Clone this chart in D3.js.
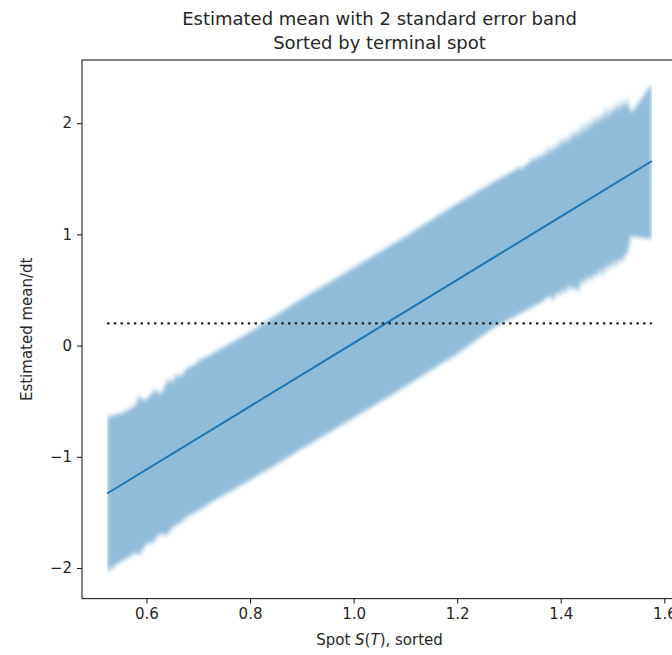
<!DOCTYPE html>
<html>
<head>
<meta charset="utf-8">
<script src="https://cdn.jsdelivr.net/npm/d3@7"></script>
<style>
  body { margin: 0; background: #fff; }
  text { font-family: "DejaVu Sans", sans-serif; fill: #262626; }
</style>
</head>
<body>
<div id="chart"></div>
<script>
// band edges (mean ± 2 s.e.)
const upperX = [0.524, 0.539, 0.557, 0.574, 0.580, 0.586, 0.593, 0.601, 0.611, 0.616, 0.624, 0.632,
  0.642, 0.649, 0.659, 0.667, 0.678, 0.690, 0.703, 0.723, 0.742, 0.767, 0.800, 0.833, 0.896,
  0.993, 1.089, 1.186, 1.244, 1.300, 1.310, 1.318, 1.324, 1.330, 1.338, 1.345, 1.350, 1.356,
  1.362, 1.368, 1.373, 1.378, 1.384, 1.389, 1.394, 1.400, 1.405, 1.410, 1.416, 1.421, 1.427,
  1.432, 1.438, 1.443, 1.448, 1.454, 1.459, 1.465, 1.470, 1.476, 1.481, 1.487, 1.492, 1.498,
  1.503, 1.509, 1.514, 1.519, 1.524, 1.528, 1.532, 1.536, 1.576];
const upperY = [-0.639, -0.624, -0.597, -0.552, -0.525, -0.444, -0.498, -0.480, -0.426, -0.390, -0.435, -0.408,
  -0.291, -0.337, -0.255, -0.284, -0.201, -0.183, -0.129, -0.085, -0.031, 0.032, 0.122, 0.221, 0.410,
  0.680, 0.950, 1.237, 1.399, 1.55, 1.57, 1.61, 1.58, 1.62, 1.64, 1.69, 1.66, 1.72,
  1.68, 1.75, 1.71, 1.80, 1.73, 1.82, 1.76, 1.87, 1.80, 1.89, 1.81, 1.94, 1.85,
  1.96, 1.88, 2.02, 1.91, 2.03, 1.95, 2.08, 1.98, 2.09, 2.02, 2.15, 2.04, 2.16,
  2.08, 2.20, 2.10, 2.21, 2.14, 2.23, 2.15, 2.09, 2.352];
const lowerX = [0.524, 0.549, 0.568, 0.578, 0.584, 0.593, 0.603, 0.611, 0.620, 0.630, 0.638, 0.649,
  0.665, 0.680, 0.703, 0.732, 0.767, 0.833, 0.896, 0.993, 1.089, 1.205, 1.269, 1.335, 1.369,
  1.378, 1.385, 1.392, 1.398, 1.404, 1.410, 1.416, 1.422, 1.428, 1.434, 1.440, 1.446, 1.452,
  1.458, 1.464, 1.470, 1.476, 1.482, 1.488, 1.494, 1.500, 1.506, 1.512, 1.518, 1.524, 1.530,
  1.535, 1.576];
const lowerY = [-2.033, -1.943, -1.901, -1.856, -1.892, -1.829, -1.766, -1.784, -1.721, -1.685, -1.712, -1.640,
  -1.595, -1.532, -1.478, -1.388, -1.299, -1.119, -0.939, -0.669, -0.399, -0.060, 0.158, 0.320, 0.410,
  0.45, 0.40, 0.49, 0.44, 0.52, 0.46, 0.55, 0.50, 0.53, 0.47, 0.60, 0.55, 0.64,
  0.57, 0.66, 0.61, 0.70, 0.62, 0.74, 0.68, 0.77, 0.70, 0.79, 0.74, 0.81, 0.84,
  0.986, 0.959];

// estimated mean line
const meanX = [0.524, 0.8, 1.0, 1.2, 1.4, 1.576];
const meanY = [-1.33, -0.546, 0.023, 0.591, 1.16, 1.66];

const refLevel = 0.2;

const xTicks = [0.6, 0.8, 1.0, 1.2, 1.4, 1.6];
const yTicks = [-2, -1, 0, 1, 2];
const titleLines = ["Estimated mean with 2 standard error band", "Sorted by terminal spot"];

const width = 672, height = 655;
const box = { left: 82, top: 60, right: 677, bottom: 598.6 };

const svg = d3.select("#chart").append("svg")
  .attr("width", width).attr("height", height)
  .attr("viewBox", [0, 0, width, height]);

const x = d3.scaleLinear().domain([0.4755, 1.6245]).range([box.left, box.right]);
const y = d3.scaleLinear().domain([-2.275, 2.568]).range([box.bottom, box.top]);

// blur gives the fuzzy edge of the dense noisy band
const defs = svg.append("defs");
defs.append("filter").attr("id", "fuzz")
  .attr("x", "-5%").attr("y", "-5%").attr("width", "110%").attr("height", "110%")
  .append("feGaussianBlur").attr("stdDeviation", 2);
defs.append("clipPath").attr("id", "bandClip")
  .append("rect")
  .attr("x", x(upperX[0])).attr("y", box.top)
  .attr("width", x(upperX[upperX.length - 1]) - x(upperX[0]))
  .attr("height", box.bottom - box.top);

const bandPts = upperX.map((v, i) => [v, upperY[i]])
  .concat(lowerX.map((v, i) => [v, lowerY[i]]).reverse());

const line = d3.line().x(d => x(d[0])).y(d => y(d[1]));

svg.append("g").attr("clip-path", "url(#bandClip)")
  .append("path")
  .attr("d", line(bandPts) + "Z")
  .attr("fill", "#1f77b4")
  .attr("fill-opacity", 0.5)
  .attr("filter", "url(#fuzz)");

// mean line
svg.append("path")
  .attr("d", line(meanX.map((v, i) => [v, meanY[i]])))
  .attr("fill", "none")
  .attr("stroke", "#1f77b4")
  .attr("stroke-width", 2);

// dotted reference level
svg.append("path")
  .attr("d", line([[upperX[0], refLevel], [upperX[upperX.length - 1], refLevel]]))
  .attr("stroke", "#222")
  .attr("stroke-width", 2.4)
  .attr("stroke-dasharray", "2.4 4.3");

// axes
const xAxis = svg.append("g")
  .attr("transform", `translate(0,${box.bottom})`)
  .call(d3.axisBottom(x).tickValues(xTicks).tickFormat(d3.format(".1f")).tickSize(5).tickPadding(5));
const yAxis = svg.append("g")
  .attr("transform", `translate(${box.left},0)`)
  .call(d3.axisLeft(y).tickValues(yTicks).tickFormat(d3.format("d")).tickSize(5).tickPadding(5));
[xAxis, yAxis].forEach(a => {
  a.select(".domain").remove();
  a.selectAll(".tick line").attr("stroke", "#222").attr("stroke-width", 1.1);
  a.selectAll(".tick text").attr("font-size", 15).attr("font-family", "DejaVu Sans").attr("fill", "#262626");
});

// spines
svg.append("rect")
  .attr("x", box.left).attr("y", box.top)
  .attr("width", box.right - box.left).attr("height", box.bottom - box.top)
  .attr("fill", "none").attr("stroke", "#222").attr("stroke-width", 1.1);

// title
svg.append("text")
  .attr("text-anchor", "middle")
  .attr("font-size", 18)
  .selectAll("tspan").data(titleLines).join("tspan")
  .attr("x", (box.left + box.right) / 2)
  .attr("y", (d, i) => 25 + i * 24)
  .text(d => d);

// axis labels
const xl = svg.append("text")
  .attr("x", (box.left + box.right) / 2).attr("y", 645)
  .attr("text-anchor", "middle").attr("font-size", 15);
xl.append("tspan").text("Spot ");
xl.append("tspan").attr("font-style", "italic").text("S");
xl.append("tspan").text("(");
xl.append("tspan").attr("font-style", "italic").text("T");
xl.append("tspan").text("), sorted");

svg.append("text")
  .attr("transform", `translate(32,${(box.top + box.bottom) / 2}) rotate(-90)`)
  .attr("text-anchor", "middle").attr("font-size", 15)
  .text("Estimated mean/dt");
</script>
</body>
</html>
